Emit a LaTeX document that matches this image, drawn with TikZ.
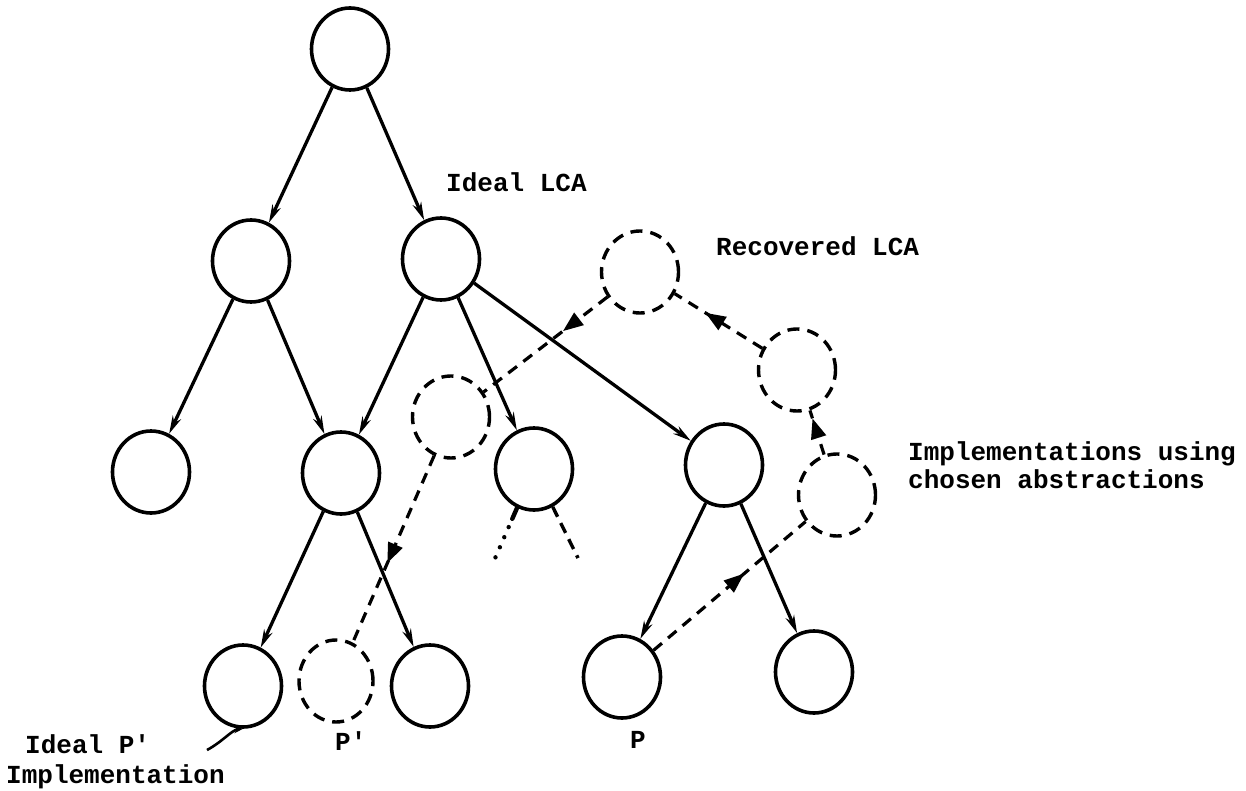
\documentclass[tikz,border=0pt]{standalone}
\usepackage{fontspec}
\setmonofont{Liberation Mono}
\usetikzlibrary{arrows.meta,shapes.geometric,decorations.markings}

\begin{document}
\begin{tikzpicture}[x=1pt,y=-1pt,
  treenode/.style={ellipse, draw, line width=3.6pt, minimum width=77pt, minimum height=82pt, inner sep=0pt},
  ghost/.style={treenode, line width=3.4pt, dash pattern=on 12pt off 8pt},
  edge/.style={line width=3.3pt, -{Stealth[length=18pt,width=9pt]}},
  chain/.style={line width=3.2pt, dash pattern=on 11pt off 8pt, postaction={decorate},
    decoration={markings, mark=at position #1 with {\fill (9,0) -- (-11,8) -- (-11,-8) -- cycle;}}},
  lbl/.style={font=\ttfamily\bfseries\fontsize{26}{30}\selectfont, inner sep=0pt, anchor=base west}
]
\path[use as bounding box] (0,0) rectangle (1246,791);

% the ideal abstraction tree
\node[treenode] (root) at (350,49) {};
\node[treenode] (a) at (251,261) {};
\node[treenode] (b) at (441,259) {};
\node[treenode] (c1) at (151,472) {};
\node[treenode] (c2) at (341,473) {};
\node[treenode] (c3) at (534,469) {};
\node[treenode] (c4) at (724,465) {};
\node[treenode] (d1) at (243,686) {};
\node[treenode] (d2) at (430,686) {};
\node[treenode] (p) at (622,677) {};
\node[treenode] (d4) at (814,672) {};

% recovered abstractions
\node[ghost] (g1) at (640,272) {};
\node[ghost] (g2) at (797,370) {};
\node[ghost] (g3) at (837,495) {};
\node[ghost] (g4) at (451,417) {};
\node[ghost, minimum width=74pt] (g5) at (336,681) {};

% tree edges
\draw[edge] (root) -- (a);
\draw[edge] (root) -- (b);
\draw[edge] (a) -- (c1);
\draw[edge] (a) -- (c2);
\draw[edge] (b) -- (c2);
\draw[edge] (b) -- (c3);
\draw[edge] (b) -- (c4);
\draw[edge] (c2) -- (d1);
\draw[edge] (c2) -- (d2);
\draw[edge] (c4) -- (p);
\draw[edge] (c4) -- (d4);

% unexpanded subtrees below c3
\coordinate (s1) at (493,563);
\coordinate (s2) at (578,558);
\draw[line width=4.4pt, line cap=round,
  dash pattern=on 12pt off 9pt on 0pt off 11pt on 0pt off 11pt on 0pt off 11pt on 0pt off 40pt] (c3) -- (s1);
\draw[line width=3.4pt, dash pattern=on 11pt off 7pt] (c3) -- (s2);

% recovery chain
\draw[chain=0.55] (p) -- (g3);
\draw[chain=0.62] (g3) -- (g2);
\draw[chain=0.56] (g2) -- (g1);
\draw[chain=0.30] (g1) -- (g4);
\draw[chain=0.53] (g4) -- (g5);

% labels
\node[lbl] (t1) at (446,192) {Ideal LCA};
\node[lbl] (t2) at (716,256) {Recovered LCA};
\node[lbl] (t3) at (908,460) {Implementations using};
\node[lbl] (t4) at (908,488) {chosen abstractions};
\node[lbl] (t5) at (335,750) {P'};
\node[lbl] (t6) at (630,748) {P};
\node[lbl] (t7) at (25,753) {Ideal P'};
\node[lbl] (t8) at (6,783) {Implementation};

\coordinate (ptr) at (207,750);
\draw[line width=2.6pt, -{Stealth[length=9pt,width=7pt]}] (ptr) .. controls (222,742) and (232,730) .. (d1.south);
\end{tikzpicture}
\end{document}
